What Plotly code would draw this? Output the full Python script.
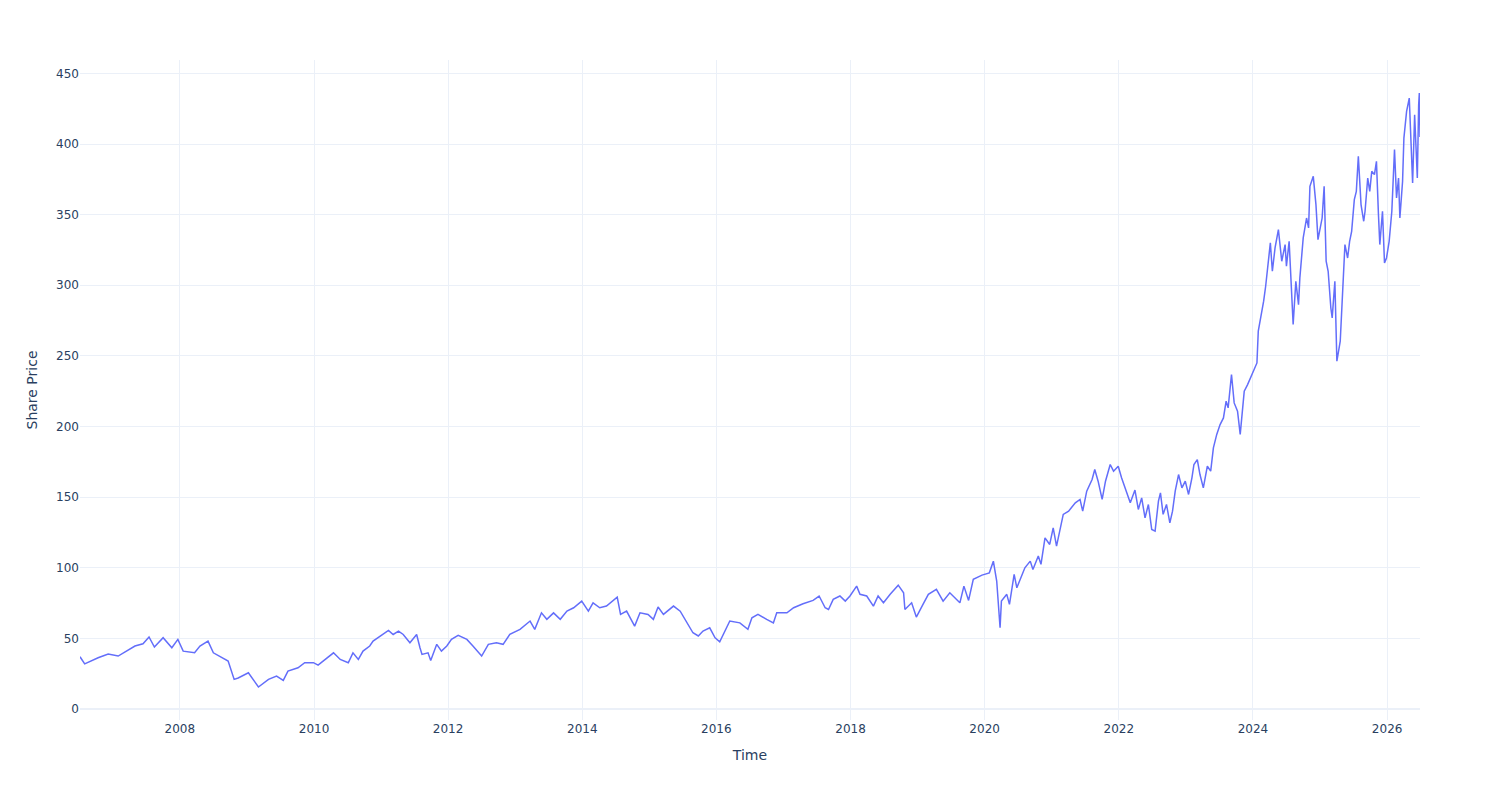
import pandas as pd
import plotly.graph_objects as go

# Decimal-year positions and share prices
years = [
    2006.51, 2006.58, 2006.78, 2006.93, 2007.08, 2007.33, 2007.45, 2007.54, 2007.62, 2007.75,
    2007.88, 2007.97, 2008.05, 2008.22, 2008.30, 2008.42, 2008.50, 2008.62, 2008.72, 2008.81,
    2008.87, 2009.02, 2009.17, 2009.32, 2009.44, 2009.54, 2009.61, 2009.76, 2009.86,
    2009.99, 2010.06, 2010.29, 2010.39, 2010.51, 2010.58, 2010.66, 2010.73, 2010.83, 2010.88,
    2011.11, 2011.18, 2011.26, 2011.33, 2011.43, 2011.53, 2011.58, 2011.61, 2011.70, 2011.74,
    2011.83, 2011.90, 2011.98, 2012.05, 2012.15, 2012.28, 2012.37, 2012.50, 2012.60, 2012.72,
    2012.82, 2012.92, 2013.07, 2013.22,
    2013.29, 2013.39, 2013.47, 2013.57, 2013.67, 2013.77, 2013.87, 2013.99, 2014.09, 2014.16,
    2014.26, 2014.36, 2014.52, 2014.57, 2014.66, 2014.78, 2014.86, 2014.98, 2015.06, 2015.13,
    2015.21, 2015.36, 2015.46, 2015.58, 2015.65, 2015.73, 2015.80, 2015.90, 2015.98, 2016.05,
    2016.20, 2016.35, 2016.47, 2016.53, 2016.62,
    2016.75, 2016.85, 2016.90, 2017.05, 2017.15, 2017.29, 2017.44, 2017.53, 2017.62, 2017.67,
    2017.74, 2017.84, 2017.92, 2017.99, 2018.09, 2018.14, 2018.24, 2018.34, 2018.41, 2018.49,
    2018.59, 2018.71, 2018.79, 2018.81, 2018.91, 2018.98, 2019.08, 2019.16, 2019.28, 2019.38,
    2019.48, 2019.58, 2019.63, 2019.69, 2019.76, 2019.83, 2019.96, 2020.07,
    2020.13, 2020.18, 2020.23, 2020.25, 2020.33, 2020.37, 2020.44, 2020.48, 2020.60, 2020.68,
    2020.72, 2020.80, 2020.84, 2020.90, 2020.97, 2021.02, 2021.07, 2021.17, 2021.25, 2021.35,
    2021.42, 2021.46, 2021.52, 2021.60, 2021.64, 2021.69, 2021.75, 2021.80, 2021.87, 2021.92,
    2021.99, 2022.04, 2022.09, 2022.17, 2022.24,
    2022.29, 2022.34, 2022.39, 2022.44, 2022.49, 2022.54, 2022.59, 2022.62, 2022.66, 2022.71,
    2022.76, 2022.80, 2022.84, 2022.89, 2022.94, 2022.99, 2023.04, 2023.09, 2023.12, 2023.17,
    2023.21, 2023.26, 2023.32, 2023.37, 2023.41, 2023.46, 2023.51, 2023.56, 2023.60, 2023.63,
    2023.68, 2023.72, 2023.77, 2023.81, 2023.87, 2023.92, 2023.98, 2024.03,
    2024.06, 2024.08, 2024.12, 2024.16, 2024.19, 2024.22, 2024.26, 2024.29, 2024.33, 2024.38,
    2024.43, 2024.48, 2024.50, 2024.54, 2024.58, 2024.60, 2024.64, 2024.68, 2024.70, 2024.73,
    2024.75, 2024.80, 2024.83, 2024.85, 2024.90, 2024.94, 2024.97, 2025.03, 2025.06, 2025.09,
    2025.12, 2025.16, 2025.18, 2025.22, 2025.25, 2025.30, 2025.34, 2025.37,
    2025.41, 2025.44, 2025.47, 2025.51, 2025.54, 2025.57, 2025.61, 2025.65, 2025.67, 2025.71,
    2025.74, 2025.77, 2025.81, 2025.84, 2025.87, 2025.89, 2025.93, 2025.96, 2025.99, 2026.03,
    2026.07, 2026.11, 2026.14, 2026.17, 2026.19, 2026.23, 2026.25, 2026.29, 2026.33, 2026.35,
    2026.38, 2026.41, 2026.43, 2026.45, 2026.47, 2026.48, 2026.49,
]

prices = [
    37.0, 32.0, 36.3, 39.0, 37.5, 44.6, 46.2, 51.0, 43.9, 50.5,
    43.4, 49.3, 41.0, 39.9, 44.6, 48.1, 39.8, 36.3, 34.0, 21.0,
    22.0, 25.7, 15.6, 21.0, 23.3, 20.3, 26.9, 29.2, 32.8,
    32.8, 31.1, 39.8, 35.1, 32.8, 39.8, 35.1, 41.0, 44.6, 48.1,
    55.7, 52.8, 55.2, 52.8, 46.9, 52.8, 43.4, 38.7, 39.8, 34.4,
    45.8, 41.0, 44.6, 49.3, 52.1, 49.3, 44.6, 37.5, 45.8, 46.9,
    45.8, 52.8, 56.4, 62.3,
    56.4, 68.1, 63.5, 68.1, 63.5, 69.3, 71.7, 76.4, 69.3, 75.2,
    71.7, 72.9, 79.2, 67.0, 69.3, 58.7, 68.1, 67.0, 63.5, 72.2,
    67.0, 72.9, 69.3, 59.9, 54.0, 51.7, 55.2, 57.5, 50.4, 47.6,
    62.3, 61.0, 56.4, 64.6, 67.0,
    63.5, 61.0, 68.1, 68.1, 71.7, 74.5, 76.9, 80.0, 71.7, 70.5,
    77.6, 80.0, 76.4, 80.0, 87.0, 81.2, 80.0, 72.9, 80.0, 75.2,
    81.2, 87.7, 82.3, 70.5, 75.2, 65.1, 74.1, 81.2, 84.7, 76.4,
    82.3, 77.6, 75.2, 87.0, 76.9, 91.8, 94.8, 96.4,
    104.7, 90.6, 57.5, 76.4, 81.2, 74.1, 95.3, 85.8, 100.0, 104.7,
    98.8, 108.3, 102.4, 121.2, 116.5, 128.3, 115.3, 137.8, 140.1, 146.0,
    148.4, 140.1, 154.2, 162.5, 169.6, 161.3, 148.4, 161.3, 173.1, 168.4,
    171.9, 163.7, 156.6, 146.0, 155.0,
    141.3, 149.5, 135.4, 144.8, 127.1, 125.9, 147.2, 153.0, 137.8, 144.8,
    131.8, 140.1, 154.2, 166.0, 156.6, 161.3, 151.9, 163.7, 173.1, 176.6,
    166.0, 156.6, 171.9, 168.4, 184.9, 194.4, 201.4, 206.1, 217.9, 213.2,
    236.8, 216.7, 210.8, 194.4, 225.0, 229.7, 236.8, 241.5,
    245.0, 267.5, 276.9, 288.7, 299.3, 314.7, 330.0, 309.9, 326.4, 339.4,
    317.0, 328.8, 313.5, 331.1, 293.4, 272.2, 302.8, 286.3, 305.2, 326.4,
    333.5, 347.6, 340.6, 370.0, 377.1, 357.1, 332.3, 347.6, 370.0, 317.0,
    309.9, 283.9, 276.9, 302.8, 246.2, 260.4, 300.5, 328.8,
    319.3, 331.1, 338.2, 360.6, 366.5, 391.3, 357.1, 345.3, 352.4, 375.9,
    366.5, 380.7, 378.3, 387.7, 350.0, 328.8, 352.4, 315.8, 319.3, 331.1,
    352.4, 396.0, 361.8, 375.9, 347.6, 373.5, 404.2, 423.1, 432.5, 404.2,
    372.4, 420.7, 392.5, 375.9, 427.8, 436.1, 405.0,
]


def to_date(y):
    base = pd.Timestamp(year=int(y), month=1, day=1)
    return base + pd.Timedelta(days=(y - int(y)) * 365.25)


dates = [to_date(y) for y in years]

fig = go.Figure(
    go.Scatter(
        x=dates,
        y=prices,
        mode="lines",
        line=dict(color="#636efa", width=1.5),
        name="Share Price",
    )
)

fig.update_layout(
    template="plotly_white",
    width=1500,
    height=800,
    font=dict(family="DejaVu Sans"),
    margin=dict(l=80, r=80, t=60, b=80),
    xaxis=dict(title=dict(text="Time")),
    yaxis=dict(title=dict(text="Share Price")),
    showlegend=False,
)

fig.write_html("out.html")
